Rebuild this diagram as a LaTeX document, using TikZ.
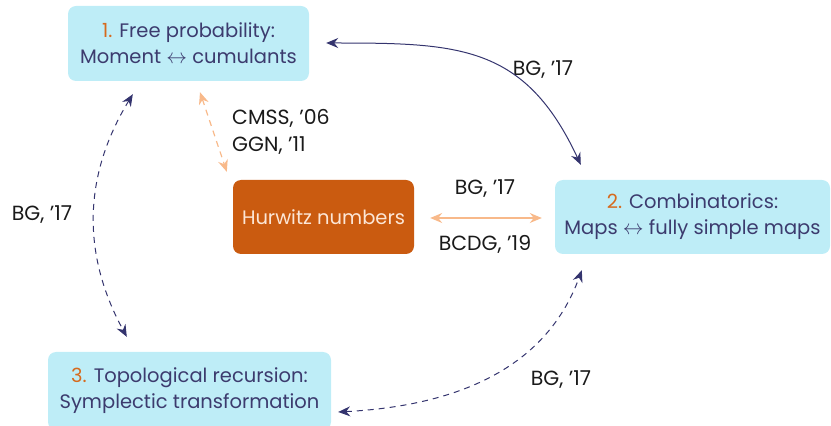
\documentclass[tikz,border=0pt]{standalone}
\usepackage{fontspec}
\setmainfont{Poppins}
\usetikzlibrary{arrows.meta,calc}
\definecolor{boxfill}{HTML}{BEEDF7}
\definecolor{boxtext}{HTML}{3C3B6E}
\definecolor{numcol}{HTML}{D66A1E}
\definecolor{hwfill}{HTML}{CA5B10}
\definecolor{hwtext}{HTML}{FCE6D6}
\definecolor{navy}{HTML}{34346E}
\definecolor{peach}{HTML}{F8B98A}
\definecolor{labcol}{HTML}{1A1A1A}
\begin{document}
\begin{tikzpicture}[x=1pt,y=1pt,
  every node/.style={font=\fontsize{19.5}{26}\selectfont},
  topic/.style={fill=boxfill,text=boxtext,rounded corners=8pt,align=center,inner sep=0pt},
  hwbox/.style={fill=hwfill,text=hwtext,rounded corners=8pt,align=center,inner sep=0pt},
  lab/.style={text=labcol,inner sep=0pt,align=left,font=\fontsize{20.5}{27}\selectfont},
  navyarrow/.style={draw=navy,line width=1pt,{Stealth[length=12pt,width=10pt,inset=4pt]}-{Stealth[length=12pt,width=10pt,inset=4pt]}},
  peacharrow/.style={draw=peach,line width=1.2pt,{Stealth[length=12pt,width=10pt,inset=4pt]}-{Stealth[length=12pt,width=10pt,inset=4pt]}},
  dsh/.style={dash pattern=on 6pt off 5pt}
]
\useasboundingbox (0,0) rectangle (831,426);
\node[topic,minimum width=241,minimum height=75] (b1) at (188.5,382.5)
  {\textcolor{numcol}{1.} Free probability:\\Moment $\leftrightarrow$ cumulants};
\node[topic,minimum width=275,minimum height=74] (b2) at (692.5,209)
  {\textcolor{numcol}{2.} Combinatorics:\\Maps $\leftrightarrow$ fully simple maps};
\node[topic,minimum width=283,minimum height=78] (b3) at (189.5,35)
  {\textcolor{numcol}{3.} Topological recursion:\\Symplectic transformation};
\node[hwbox,minimum width=181,minimum height=74] (hw) at (323.5,209) {Hurwitz numbers};

\node[lab,anchor=west] (l1) at (232,294.5) {CMSS, ’06\\GGN, ’11};
\node[lab] (l2) at (543,356) {BG, ’17};
\node[lab] (l3) at (42,211) {BG, ’17};
\node[lab] (l4) at (485,237) {BG, ’17};
\node[lab] (l5) at (485,182) {BCDG, ’19};
\node[lab] (l6) at (561,46) {BG, ’17};

\draw[peacharrow,dsh] ([xshift=11.5pt,yshift=-11pt]b1.south) -- ([xshift=-6pt,yshift=8pt]hw.north west);
\draw[peacharrow] ([xshift=16pt,yshift=-1pt]hw.east) -- ([xshift=-13pt,yshift=-1pt]b2.west);
\draw[navyarrow] ([xshift=17pt,yshift=0.5pt]b1.east) to[out=0,in=115,looseness=1.2] ([xshift=26pt,yshift=15pt]b2.north west);
\draw[navyarrow,dsh] ([xshift=65pt,yshift=-13pt]b1.south west) to[bend right=30] ([xshift=79pt,yshift=15pt]b3.north west);
\draw[navyarrow,dsh] ([xshift=7pt,yshift=-21pt]b3.east) to[out=3,in=-110] ([xshift=27pt,yshift=-16pt]b2.south west);
\end{tikzpicture}
\end{document}
